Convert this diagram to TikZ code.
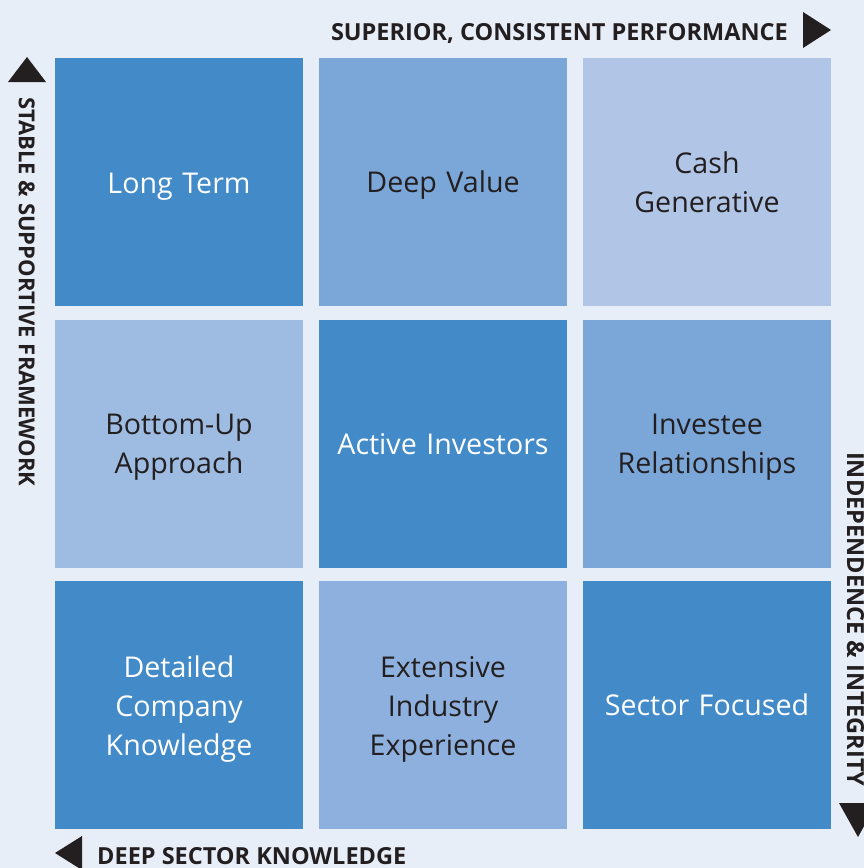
\documentclass[tikz,border=0pt]{standalone}
\usepackage{fontspec}
\usepackage{tikz}
\setmainfont{Open Sans}
\definecolor{bg}{RGB}{232, 238, 248}
\definecolor{dark}{RGB}{66, 138, 200}
\definecolor{mid}{RGB}{123, 166, 216}
\definecolor{soft}{RGB}{142, 176, 222}
\definecolor{pale}{RGB}{158, 187, 226}
\definecolor{light}{RGB}{177, 198, 230}
\definecolor{ink}{RGB}{35, 31, 32}

\begin{document}
\begin{tikzpicture}[x=1pt, y=-1pt,
	cell/.style={fill=#1, minimum size=248pt, inner sep=0pt}, % quadrado
	lbl/.style={inner sep=0pt, text width=240pt, align=center,
		font=\fontsize{28.6}{39}\selectfont, text=ink},
	lbl white/.style={lbl, text=white}, % texto branco nos escuros
	axis/.style={inner sep=0pt, text=ink, font=\fontsize{23.5}{28}\selectfont\bfseries},
	tip/.style={fill=ink}]
\clip (0,0) rectangle (864,868);
\fill[bg] (0,0) rectangle (864,868);
% quadrados
\node[cell=dark] (longterm) at (179,181.5) {};
\node[cell=mid] (deepvalue) at (443,181.5) {};
\node[cell=light] (cash) at (707,181.5) {};
\node[cell=pale] (bottomup) at (179,443.5) {};
\node[cell=dark] (active) at (443,443.5) {};
\node[cell=mid] (investee) at (707,443.5) {};
\node[cell=dark] (detailed) at (179,705) {};
\node[cell=soft] (extensive) at (443,705) {};
\node[cell=dark] (sector) at (707,705) {};
% textos
\node[lbl white] at ([yshift=-5pt]longterm.center) {Long Term};
\node[lbl] at ([yshift=-4pt]deepvalue.center) {Deep Value};
\node[lbl] at ([yshift=-1pt]cash.center) {Cash\\Generative};
\node[lbl] at ([yshift=-4pt]bottomup.center) {Bottom-Up\\Approach};
\node[lbl white] at ([yshift=-1pt]active.center) {Active Investors};
\node[lbl] at ([yshift=-4pt]investee.center) {Investee\\Relationships};
\node[lbl white] at ([yshift=-4pt]detailed.center) {Detailed\\Company\\Knowledge};
\node[lbl] at ([yshift=-4pt]extensive.center) {Extensive\\Industry\\Experience};
\node[lbl white] at (sector.center) {Sector Focused};
% eixos
\node[axis, anchor=base east] (performance) at (788,40) {SUPERIOR, CONSISTENT PERFORMANCE};
\node[axis, anchor=base west] (knowledge) at (97,864) {DEEP SECTOR KNOWLEDGE};
\node[axis, anchor=base west, rotate=-90, font=\fontsize{22}{26}\selectfont\bfseries] (framework) at (19,97) {STABLE \& SUPPORTIVE FRAMEWORK};
\node[axis, anchor=base west, rotate=-90] (integrity) at (847,452) {INDEPENDENCE \& INTEGRITY};
% setas
\fill[tip] (803,12) -- (831,30) -- (803,48) -- cycle;
\fill[tip] (8,82) -- (27,57) -- (46,82) -- cycle;
\fill[tip] (839,803) -- (858,837) -- (877,803) -- cycle;
\fill[tip] (82,836) -- (55,853) -- (82,870) -- cycle;
\end{tikzpicture}
\end{document}
